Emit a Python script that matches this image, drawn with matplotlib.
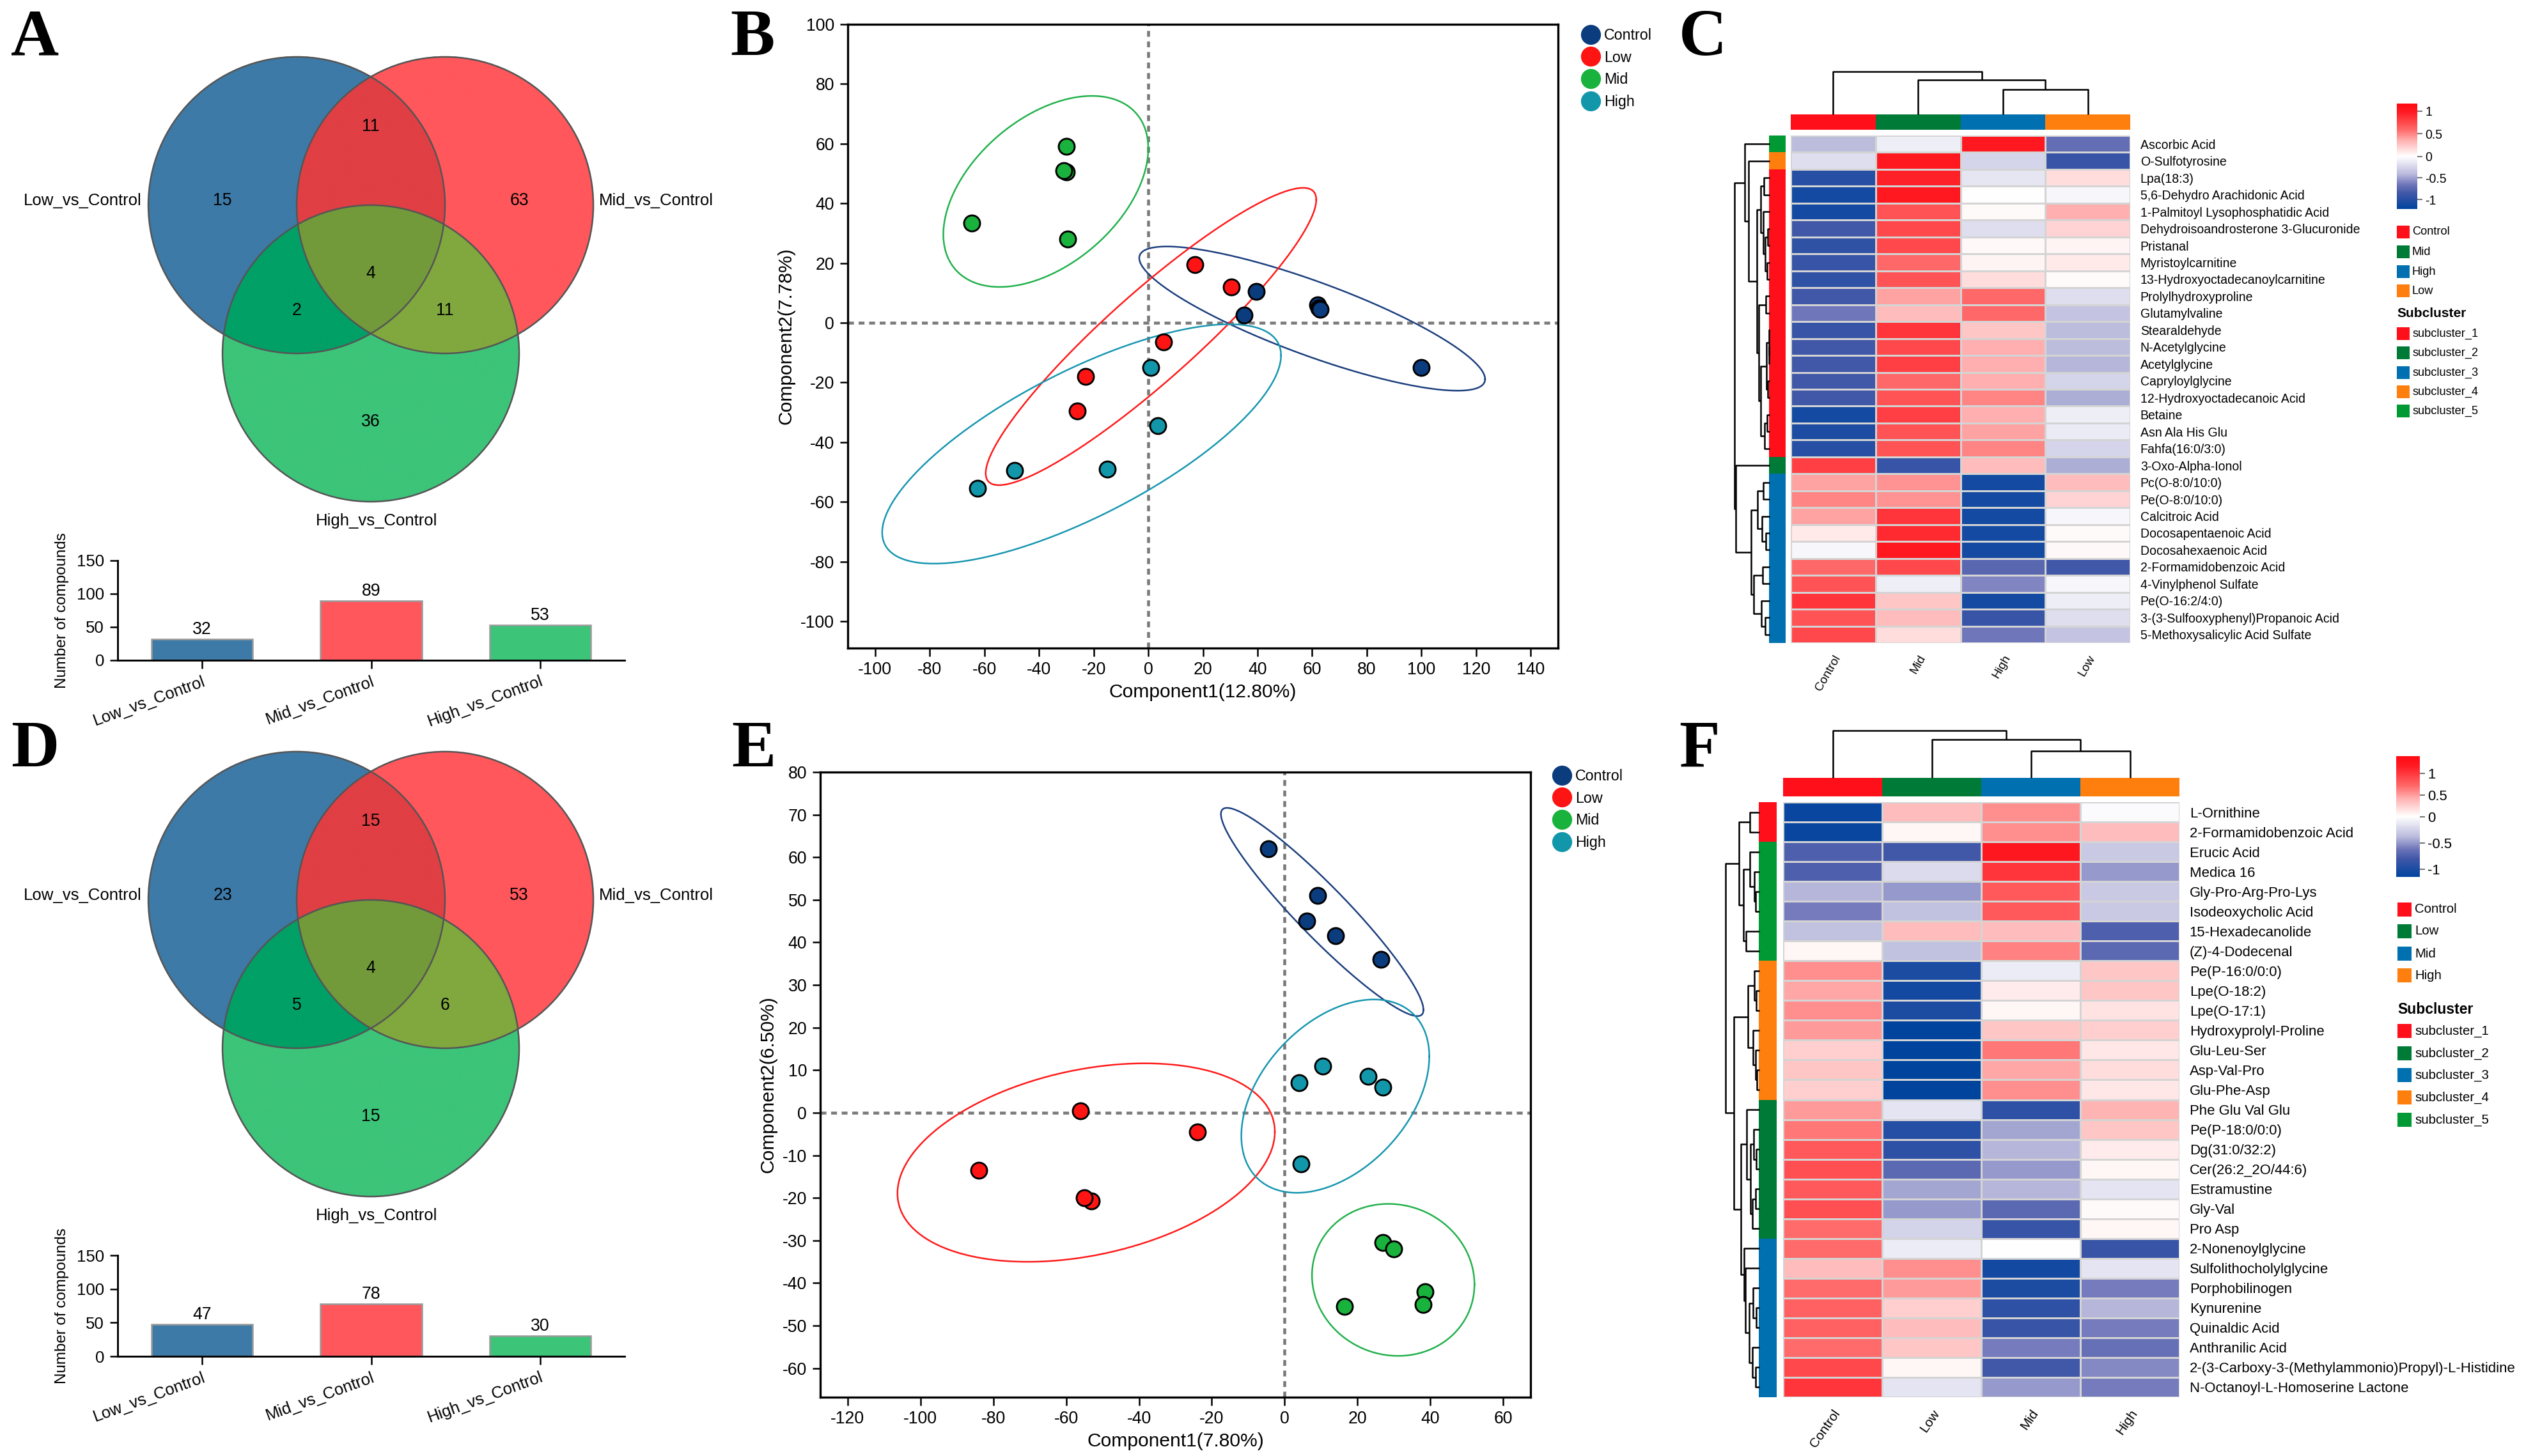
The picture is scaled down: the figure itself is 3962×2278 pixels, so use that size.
import numpy as np
import matplotlib
matplotlib.use('Agg')
import matplotlib.pyplot as plt
from matplotlib.colors import LinearSegmentedColormap, ListedColormap, TwoSlopeNorm, to_rgba
from matplotlib.lines import Line2D
from matplotlib.patches import Rectangle, Circle

# ------------------------------------------------------------------ data
venn_names = ['Low_vs_Control', 'Mid_vs_Control', 'High_vs_Control']
# region order: Low only, Mid only, High only, Low&Mid, Low&High, Mid&High, all three
venn_A_counts = [15, 63, 36, 11, 2, 11, 4]
venn_D_counts = [23, 53, 15, 15, 5, 6, 4]
bar_A_totals = [32, 89, 53]
bar_D_totals = [47, 78, 30]

groups = ['Control', 'Low', 'Mid', 'High']
B_control = [(35, 2.5), (39.5, 10.5), (62, 6), (62.5, 5), (63, 4.5), (100, -15)]
B_low = [(17, 19.5), (30.5, 12), (5.5, -6.5), (-23, -18), (-26, -29.5)]
B_mid = [(-30, 59), (-30, 50.5), (-31, 51), (-64.5, 33.5), (-29.5, 28)]
B_high = [(1, -15), (3.5, -34.5), (-15, -49), (-49, -49.5), (-62.5, -55.5)]
# confidence ellipses: centre x, centre y, half-width x, half-height y, correlation
B_ell_control = [60, 1.4, 63.3, 24.15, -0.84]
B_ell_low = [1, -4.6, 60.5, 49.8, 0.92]
B_ell_mid = [-37.5, 44, 37.5, 32, 0.45]
B_ell_high = [-24.4, -40.6, 73, 40.1, 0.74]

E_control = [(-4.5, 62), (9, 51), (6, 45), (14, 41.5), (26.5, 36)]
E_low = [(-56, 0.5), (-24, -4.5), (-84, -13.5), (-53, -20.7), (-55, -20)]
E_mid = [(27, -30.5), (30, -32), (38.5, -42), (38, -45), (16.5, -45.5)]
E_high = [(4, 7), (10.5, 11), (23, 8.5), (27, 6), (4.5, -12)]
E_ell_control = [10.3, 47.15, 27.8, 24.45, -0.94]
E_ell_low = [-54.5, -11.7, 51.8, 23.3, 0.31]
E_ell_mid = [29.8, -39.25, 22.3, 17.85, -0.06]
E_ell_high = [13.9, 3.9, 25.8, 22.7, 0.41]

C_cols = ['Control', 'Mid', 'High', 'Low']
C_rows = ['Ascorbic Acid', 'O-Sulfotyrosine', 'Lpa(18:3)', '5,6-Dehydro Arachidonic Acid',
          '1-Palmitoyl Lysophosphatidic Acid', 'Dehydroisoandrosterone 3-Glucuronide', 'Pristanal',
          'Myristoylcarnitine', '13-Hydroxyoctadecanoylcarnitine', 'Prolylhydroxyproline',
          'Glutamylvaline', 'Stearaldehyde', 'N-Acetylglycine', 'Acetylglycine', 'Capryloylglycine',
          '12-Hydroxyoctadecanoic Acid', 'Betaine', 'Asn Ala His Glu', 'Fahfa(16:0/3:0)',
          '3-Oxo-Alpha-Ionol', 'Pc(O-8:0/10:0)', 'Pe(O-8:0/10:0)', 'Calcitroic Acid',
          'Docosapentaenoic Acid', 'Docosahexaenoic Acid', '2-Formamidobenzoic Acid',
          '4-Vinylphenol Sulfate', 'Pe(O-16:2/4:0)', '3-(3-Sulfooxyphenyl)Propanoic Acid',
          '5-Methoxysalicylic Acid Sulfate']
C_control = [-0.4, -0.2, -1.0, -1.1, -1.1, -0.85, -0.95, -0.9, -0.95, -0.85, -0.65, -0.9, -0.85, -0.85, -0.85,
             -0.85, -1.1, -1.05, -1.0, 0.8, 0.4, 0.5, 0.4, 0.1, -0.05, 0.6, 0.7, 0.85, 0.7, 0.75]
C_mid = [-0.1, 1.0, 0.95, 1.0, 0.7, 0.75, 0.75, 0.6, 0.7, 0.4, 0.3, 0.85, 0.75, 0.8, 0.6,
         0.7, 0.8, 0.7, 0.7, -0.9, 0.45, 0.45, 0.85, 0.9, 1.0, 0.75, -0.1, 0.25, 0.3, 0.15]
C_high = [1.0, -0.25, -0.15, 0.0, 0.02, -0.2, 0.03, 0.05, 0.15, 0.6, 0.6, 0.25, 0.35, 0.35, 0.35,
          0.5, 0.35, 0.4, 0.5, 0.3, -1.1, -1.1, -1.1, -1.1, -1.1, -0.75, -0.6, -1.1, -0.9, -0.65]
C_low = [-0.7, -0.9, 0.15, -0.05, 0.35, 0.2, 0.05, 0.1, 0.02, -0.2, -0.35, -0.4, -0.4, -0.42, -0.25,
         -0.45, -0.1, -0.12, -0.25, -0.45, 0.3, 0.2, -0.05, 0.02, 0.03, -0.85, -0.05, -0.1, -0.2, -0.35]
C_subcluster = [5, 4] + [1] * 17 + [2] + [3] * 10
C_row_tree = [1.0,
              [0.71, 0, [0.6, 1,
                         [0.36,
                          [0.25, [0.16, 2, 3], [0.18, 4, [0.12, [0.06, 5, 6], [0.08, 7, 8]]]],
                          [0.31, [0.11, 9, 10],
                           [0.26, [0.1, [0.02, 11, [0.01, 12, 13]], [0.06, 14, 15]],
                            [0.15, [0.08, 16, 17], 18]]]]]],
              [0.956, 19,
               [0.52, [0.34, [0.175, 20, 21], [0.225, 22, [0.11, 23, 24]]],
                [0.46, [0.2, 25, 26], [0.24, 27, [0.12, 28, 29]]]]]]
C_col_tree = [1.0, 0, [0.8, 1, [0.575, 2, 3]]]

F_cols = ['Control', 'Low', 'Mid', 'High']
F_rows = ['L-Ornithine', '2-Formamidobenzoic Acid', 'Erucic Acid', 'Medica 16', 'Gly-Pro-Arg-Pro-Lys',
          'Isodeoxycholic Acid', '15-Hexadecanolide', '(Z)-4-Dodecenal', 'Pe(P-16:0/0:0)', 'Lpe(O-18:2)',
          'Lpe(O-17:1)', 'Hydroxyprolyl-Proline', 'Glu-Leu-Ser', 'Asp-Val-Pro', 'Glu-Phe-Asp',
          'Phe Glu Val Glu', 'Pe(P-18:0/0:0)', 'Dg(31:0/32:2)', 'Cer(26:2_2O/44:6)', 'Estramustine',
          'Gly-Val', 'Pro Asp', '2-Nonenoylglycine', 'Sulfolithocholylglycine', 'Porphobilinogen',
          'Kynurenine', 'Quinaldic Acid', 'Anthranilic Acid',
          '2-(3-Carboxy-3-(Methylammonio)Propyl)-L-Histidine', 'N-Octanoyl-L-Homoserine Lactone']
F_control = [-1.1, -1.1, -0.75, -0.75, -0.4, -0.6, -0.35, 0.05, 0.55, 0.45, 0.55, 0.5, 0.25, 0.3, 0.25,
             0.5, 0.65, 0.8, 0.85, 0.8, 0.85, 0.7, 0.7, 0.35, 0.7, 0.75, 0.75, 0.7, 0.9, 1.0]
F_low = [0.35, 0.05, -0.8, -0.2, -0.5, -0.35, 0.35, -0.35, -1.0, -1.05, -1.0, -1.15, -1.15, -1.15, -1.15,
         -0.15, -0.95, -0.9, -0.7, -0.45, -0.5, -0.25, -0.1, 0.55, 0.5, 0.25, 0.35, 0.3, 0.05, -0.15]
F_mid = [0.55, 0.55, 1.2, 1.0, 0.8, 0.8, 0.35, 0.6, -0.1, 0.1, 0.05, 0.3, 0.65, 0.45, 0.55,
         -0.9, -0.45, -0.4, -0.5, -0.4, -0.7, -0.85, 0.0, -1.05, -1.0, -0.9, -0.85, -0.6, -0.8, -0.5]
F_high = [-0.02, 0.35, -0.3, -0.5, -0.3, -0.3, -0.75, -0.7, 0.3, 0.3, 0.15, 0.25, 0.12, 0.18, 0.12,
          0.4, 0.3, 0.1, 0.05, -0.15, 0.03, 0.05, -0.85, -0.15, -0.6, -0.4, -0.6, -0.65, -0.55, -0.6]
F_subcluster = [1, 1] + [5] * 6 + [4] * 7 + [2] * 7 + [3] * 8
F_row_tree = [1.0,
              [0.61, [0.28, 0, 1],
               [0.48, [0.29, 2, [0.16, 3, [0.11, 4, 5]]], [0.39, 6, 7]]],
              [0.76,
               [0.34, [0.16, 8, [0.1, 9, 10]], [0.19, 11, [0.12, 12, [0.08, 13, 14]]]],
               [0.55,
                [0.37, 15, [0.26, [0.17, 16, [0.1, 17, 18]], [0.2, [0.12, 19, 20], 21]]],
                [0.45, 22, [0.42, 23, [0.3, [0.18, 24, [0.1, 25, 26]], [0.2, 27, [0.12, 28, 29]]]]]]]]
F_col_tree = [1.0, 0, [0.806, 1, [0.572, 2, 3]]]

subcluster_names = ['subcluster_1', 'subcluster_2', 'subcluster_3', 'subcluster_4', 'subcluster_5']

# ------------------------------------------------------------------ style
W, H = 3962, 2278
DPI = 300
plt.rcParams['font.family'] = ['Liberation Sans', 'DejaVu Sans']
plt.rcParams['axes.unicode_minus'] = False

venn_blue, venn_red, venn_green = '#3D7AA7', '#FF575B', '#3CC479'
region_colors = {1: venn_blue, 2: venn_red, 4: venn_green, 3: '#E03F44', 5: '#00A066',
                 6: '#80A83E', 7: '#739A3A'}
region_codes = [1, 2, 4, 3, 5, 6, 7]
region_pos = {1: (-0.5, 0.03), 2: (1.5, 0.03), 4: (0.5, -1.46), 3: (0.5, 0.53),
              5: (0.0, -0.71), 6: (1.0, -0.71), 7: (0.5, -0.46)}
venn_centers = [(0.0, 0.0), (1.0, 0.0), (0.5, -1.0)]

scatter_colors = ['#0B3C7D', '#FF1414', '#19B23C', '#1297AA']
ell_colors = ['#1C3F7E', '#FF1A1A', '#22B14C', '#1796B0']

hm_group_colors = ['#FF0F1A', '#007A37', '#0070B0', '#FF7F0E']
sub_colors = ['#FF0F1A', '#007A37', '#0070B0', '#FF7F0E', '#009933']
hm_cmap = LinearSegmentedColormap.from_list('hm', [
    (0.0, '#00449E'), (0.15, '#4157A8'), (0.23, '#6E75B9'), (0.33, '#B9B9DC'), (0.5, '#FFFFFF'),
    (0.65, '#FFB0B0'), (0.75, '#FF6B6B'), (0.92, '#FF1A22'), (1.0, '#FF0A14')])

fig = plt.figure(figsize=(W / DPI, H / DPI), dpi=DPI)


def box(l, t, r, b):
    return [l / W, 1 - b / H, (r - l) / W, (b - t) / H]


def panel_letter(x, y, s):
    fig.text(x / W, 1 - y / H, s, fontsize=25, fontweight='bold', va='top', ha='left',
             family=['Liberation Serif', 'DejaVu Serif'])


# ------------------------------------------------------------------ Venn + bar
def draw_venn(rect, xlim, ylim, counts):
    ax = fig.add_axes(rect)
    xs = np.linspace(xlim[0], xlim[1], 1800)
    ys = np.linspace(ylim[0], ylim[1], 1300)
    X, Y = np.meshgrid(xs, ys)
    code = np.zeros(X.shape, dtype=int)
    for k, (cx, cy) in enumerate(venn_centers):
        code += (((X - cx) ** 2 + (Y - cy) ** 2) <= 1.0).astype(int) << k
    rgba = np.zeros(X.shape + (4,))
    for c, col in region_colors.items():
        rgba[code == c] = to_rgba(col)
    ax.imshow(rgba, extent=[xlim[0], xlim[1], ylim[0], ylim[1]], origin='lower',
              aspect='auto', interpolation='antialiased')
    for (cx, cy) in venn_centers:
        ax.add_patch(Circle((cx, cy), 1.0, fill=False, edgecolor='#555555', lw=0.6))
    for c, n in zip(region_codes, counts):
        ax.text(*region_pos[c], str(n), ha='center', va='center', fontsize=6.4)
    ax.text(-1.043, 0.03, venn_names[0], ha='right', va='center', fontsize=6.2)
    ax.text(2.04, 0.03, venn_names[1], ha='left', va='center', fontsize=6.2)
    ax.text(0.54, -2.13, venn_names[2], ha='center', va='center', fontsize=6.2)
    ax.set_xlim(*xlim)
    ax.set_ylim(*ylim)
    ax.axis('off')


def draw_bar(rect, totals):
    ax = fig.add_axes(rect)
    x = np.arange(len(totals))
    ax.bar(x, totals, width=0.6, color=[venn_blue, venn_red, venn_green],
           edgecolor='#9A9A9A', linewidth=0.6)
    for xi, v in zip(x, totals):
        ax.text(xi, v + 2, str(v), ha='center', va='bottom', fontsize=6.4)
    ax.set_xlim(-0.5, 2.5)
    ax.set_ylim(0, 150)
    ax.set_yticks([0, 50, 100, 150])
    ax.set_xticks(x)
    ax.set_xticklabels(venn_names, rotation=20, ha='right', va='top', rotation_mode='anchor')
    ax.tick_params(axis='y', labelsize=6.2, width=0.6, length=3, pad=2)
    ax.tick_params(axis='x', labelsize=6.2, width=0.6, length=3, pad=2)
    for s in ['top', 'right']:
        ax.spines[s].set_visible(False)
    for s in ['left', 'bottom']:
        ax.spines[s].set_linewidth(0.7)
    ax.set_ylabel('Number of compounds', fontsize=5.8, labelpad=3)


draw_venn(box(0, 60, 1180, 900), (-2.0, 3.086), (-2.496, 1.125), venn_A_counts)
draw_bar(box(184, 877, 977, 1033), bar_A_totals)
draw_venn(box(0, 1140, 1180, 1960), (-2.0, 3.086), (-2.379, 1.155), venn_D_counts)
draw_bar(box(184, 1964, 977, 2122), bar_D_totals)


# ------------------------------------------------------------------ scatter
def ellipse_xy(p):
    cx, cy, hx, hy, r = p
    t = np.linspace(0, 2 * np.pi, 400)
    return cx + hx * np.cos(t), cy + hy * (r * np.cos(t) + np.sqrt(1 - r * r) * np.sin(t))


def draw_scatter(rect, pts, ells, xlim, ylim, xticks, yticks, xlabel, ylabel, leg_xy):
    ax = fig.add_axes(rect)
    ax.axvline(0, color='#7A7A7A', lw=1.1, ls=(0, (2, 1.6)), zorder=1)
    ax.axhline(0, color='#7A7A7A', lw=1.1, ls=(0, (2, 1.6)), zorder=1)
    for p, c in zip(ells, ell_colors):
        ex, ey = ellipse_xy(p)
        ax.plot(ex, ey, color=c, lw=0.6, zorder=2)
    for pt, c in zip(pts, scatter_colors):
        arr = np.array(pt)
        ax.scatter(arr[:, 0], arr[:, 1], s=36, color=c, edgecolor='black', linewidth=0.7, zorder=3)
    ax.set_xlim(*xlim)
    ax.set_ylim(*ylim)
    ax.set_xticks(xticks)
    ax.set_yticks(yticks)
    ax.tick_params(labelsize=6.4, width=0.6, length=3, pad=2)
    for s in ax.spines.values():
        s.set_linewidth(0.8)
    ax.set_xlabel(xlabel, fontsize=7.2, labelpad=2)
    ax.set_ylabel(ylabel, fontsize=7.2, labelpad=2)
    handles = [Line2D([], [], marker='o', ls='', mfc=c, mec=c, ms=6.5) for c in scatter_colors]
    ax.legend(handles, groups, loc='upper left', bbox_to_anchor=(leg_xy[0] / W, 1 - leg_xy[1] / H),
              bbox_transform=fig.transFigure, frameon=False, fontsize=5.6, handlelength=1.0,
              handletextpad=0.4, labelspacing=0.5, borderpad=0, borderaxespad=0)


draw_scatter(box(1326, 38, 2437, 1014), [B_control, B_low, B_mid, B_high],
             [B_ell_control, B_ell_low, B_ell_mid, B_ell_high], (-110, 150), (-109, 100),
             np.arange(-100, 141, 20), np.arange(-100, 101, 20),
             'Component1(12.80%)', 'Component2(7.78%)', (2476, 44))
draw_scatter(box(1283, 1208, 2394, 2186), [E_control, E_low, E_mid, E_high],
             [E_ell_control, E_ell_low, E_ell_mid, E_ell_high], (-127.5, 67.5), (-66.8, 80),
             np.arange(-120, 61, 20), np.arange(-60, 81, 10),
             'Component1(7.80%)', 'Component2(6.50%)', (2431, 1203))


# ------------------------------------------------------------------ heatmaps
def dendro(ax, node, orient):
    """draw nested [height, left, right] tree; returns (position, height)"""
    if not isinstance(node, list):
        return node + 0.5, 0.0
    h, left, right = node
    p1, h1 = dendro(ax, left, orient)
    p2, h2 = dendro(ax, right, orient)
    if orient == 'row':
        ax.plot([h1, h, h, h2], [p1, p1, p2, p2], color='black', lw=0.6, clip_on=False,
                solid_capstyle='butt')
    else:
        ax.plot([p1, p1, p2, p2], [h1, h, h, h2], color='black', lw=0.6, clip_on=False,
                solid_capstyle='butt')
    return (p1 + p2) / 2, h


def draw_heatmap(cells, colbar, rowbar, rowden, colden, cbar, values, rows, cols, subs,
                 row_tree, col_tree, vmin, vmax, rowfs, colfs, colrot, leg):
    data = np.array(values).T
    nr, nc = data.shape
    ax = fig.add_axes(box(*cells))
    norm = TwoSlopeNorm(vmin=vmin, vcenter=0.0, vmax=vmax)
    mesh = ax.pcolormesh(np.arange(nc + 1), np.arange(nr + 1), data, cmap=hm_cmap, norm=norm,
                         edgecolors='#D4D4D4', linewidth=0.6)
    ax.set_xlim(0, nc)
    ax.set_ylim(nr, 0)
    ax.yaxis.tick_right()
    ax.set_yticks(np.arange(nr) + 0.5)
    ax.set_yticklabels(rows, fontsize=rowfs)
    ax.set_xticks(np.arange(nc) + 0.5)
    ax.set_xticklabels(cols, fontsize=colfs, rotation=colrot, ha='right', va='top',
                       rotation_mode='anchor')
    ax.tick_params(length=0, pad=3.8)
    for s in ax.spines.values():
        s.set_visible(False)

    axc = fig.add_axes(box(*colbar))
    axc.pcolormesh(np.arange(nc + 1), [0, 1], np.arange(nc)[None, :],
                   cmap=ListedColormap(hm_group_colors[:nc]), vmin=-0.5, vmax=nc - 0.5)
    axc.axis('off')

    axr = fig.add_axes(box(*rowbar))
    axr.pcolormesh([0, 1], np.arange(nr + 1), (np.array(subs) - 1)[:, None],
                   cmap=ListedColormap(sub_colors), vmin=-0.5, vmax=4.5)
    axr.set_ylim(nr, 0)
    axr.axis('off')

    axd = fig.add_axes(box(*rowden))
    dendro(axd, row_tree, 'row')
    axd.set_xlim(1.0, 0)
    axd.set_ylim(nr, 0)
    axd.axis('off')

    axt = fig.add_axes(box(*colden))
    dendro(axt, col_tree, 'col')
    axt.set_xlim(0, nc)
    axt.set_ylim(0, 1.0)
    axt.axis('off')

    cax = fig.add_axes(box(*cbar))
    cb = fig.colorbar(mesh, cax=cax, ticks=[-1, -0.5, 0, 0.5, 1])
    cb.outline.set_visible(False)
    cb.ax.set_yticklabels(['-1', '-0.5', '0', '0.5', '1'])
    cb.ax.tick_params(labelsize=rowfs, length=2, width=0.5, color='#777777', pad=1)

    sx, tx, sq, ys, fs = leg
    for i, (name, col) in enumerate(zip(cols, hm_group_colors)):
        y = ys[i]
        fig.add_artist(Rectangle((sx / W, 1 - (y + sq / 2) / H), sq / W, sq / H,
                                 transform=fig.transFigure, color=col, lw=0))
        fig.text(tx / W, 1 - y / H, name, fontsize=fs, va='center', ha='left')
    fig.text(sx / W, 1 - ys[4] / H, 'Subcluster', fontsize=fs + 0.6, fontweight='bold',
             va='center', ha='left')
    for i, (name, col) in enumerate(zip(subcluster_names, sub_colors)):
        y = ys[5 + i]
        fig.add_artist(Rectangle((sx / W, 1 - (y + sq / 2) / H), sq / W, sq / H,
                                 transform=fig.transFigure, color=col, lw=0))
        fig.text(tx / W, 1 - y / H, name, fontsize=fs, va='center', ha='left')


draw_heatmap((2801, 212, 3332, 1006), (2801, 179, 3332, 203), (2767, 212, 2793, 1006),
             (2713, 212, 2768, 1006), (2801, 112, 3332, 179), (3749, 162, 3781, 327),
             [C_control, C_mid, C_high, C_low], C_rows, C_cols, C_subcluster,
             C_row_tree, C_col_tree, -1.22, 1.17, 4.7, 4.6, 60,
             (3749, 3773, 20, [363, 394, 425, 455, 491, 522, 552, 583, 613, 643], 4.4))
draw_heatmap((2789, 1255, 3409, 2186), (2789, 1217, 3409, 1246), (2751, 1255, 2779, 2186),
             (2699, 1255, 2752, 2186), (2789, 1143, 3409, 1217), (3748, 1183, 3785, 1372),
             [F_control, F_low, F_mid, F_high], F_rows, F_cols, F_subcluster,
             F_row_tree, F_col_tree, -1.15, 1.39, 5.3, 5.0, 55,
             (3750, 3777, 22, [1423, 1457, 1492, 1526, 1579, 1613, 1648, 1682, 1717, 1752], 4.9))

# ------------------------------------------------------------------ panel letters
panel_letter(17, 14, 'A')
panel_letter(1142, 14, 'B')
panel_letter(2626, 14, 'C')
panel_letter(17, 1127, 'D')
panel_letter(1144, 1127, 'E')
panel_letter(2626, 1127, 'F')

fig.savefig('out.png', dpi=DPI)
